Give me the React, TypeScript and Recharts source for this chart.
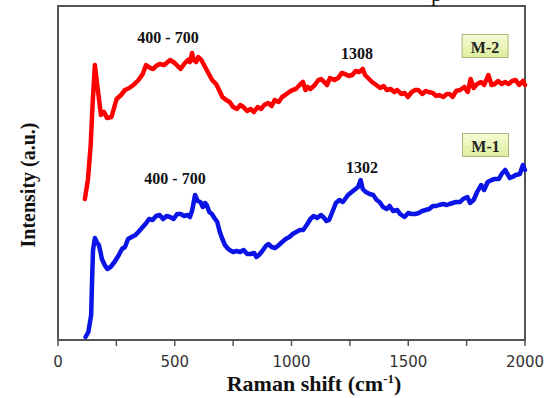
import React from 'react';
import { LineChart, Line, XAxis, YAxis, ReferenceArea, ReferenceDot } from 'recharts';

// Raman shift (cm-1) and intensity (a.u.) for sample M-2 (red, upper trace)
const m2Shift = [115,128,140,148,158,168,184,197,210,229,240,251,270,287,305,323,345,363,377,395,408,420,435,455,480,500,525,540,556,565,574,580,592,600,614,630,646,660,677,690,704,720,735,750,767,780,794,810,825,839,855,870,883,900,915,928,945,960,973,990,1005,1018,1035,1049,1060,1070,1081,1100,1115,1126,1140,1152,1165,1184,1200,1215,1229,1245,1260,1275,1290,1305,1315,1332,1345,1363,1380,1395,1408,1425,1440,1453,1470,1485,1498,1515,1530,1543,1560,1575,1587,1605,1620,1632,1650,1665,1677,1690,1705,1722,1740,1755,1767,1780,1795,1812,1825,1843,1857,1870,1885,1900,1915,1930,1945,1960,1975,1991,2000];
const m2Intensity = [141,160,195,235,275,255,225,228,222,223,232,241,245,250,252,255,260,266,275,272,271,274,276,275,280,277,271,276,280,278,287,280,278,283,280,273,266,260,256,250,243,240,238,233,231,235,233,229,231,228,233,231,235,237,234,240,238,243,245,248,250,251,255,258,250,253,251,255,260,261,258,255,262,260,262,267,266,264,265,269,268,271,265,261,258,255,252,254,250,251,248,250,246,247,243,248,250,250,246,249,248,247,244,245,243,246,246,243,249,250,253,248,261,252,256,258,255,265,255,256,259,256,258,256,259,260,255,259,255];

// Raman shift (cm-1) and intensity (a.u.) for sample M-1 (blue, lower trace)
const m1Shift = [118,130,142,146,150,158,168,175,182,188,200,211,225,242,258,274,287,300,315,332,348,363,378,390,405,420,435,450,465,480,495,510,525,540,555,565,575,587,598,610,620,630,637,648,659,670,682,693,704,715,725,735,750,765,780,795,810,825,840,850,861,875,890,901,915,930,946,960,975,991,1005,1020,1036,1050,1065,1081,1095,1110,1126,1140,1150,1161,1175,1190,1205,1220,1242,1258,1274,1285,1296,1305,1318,1335,1350,1365,1377,1392,1408,1420,1435,1453,1465,1484,1500,1515,1529,1545,1560,1574,1590,1605,1620,1632,1650,1665,1677,1690,1705,1722,1735,1753,1765,1780,1795,1812,1825,1840,1857,1870,1888,1900,1915,1925,1935,1946,1960,1978,1991,2000];
const m1Intensity = [3,8,25,60,90,102,97,95,88,81,75,71,73,78,84,91,93,101,103,105,109,113,117,121,120,124,125,121,124,123,121,126,126,124,125,123,130,145,139,138,133,137,135,128,126,122,118,108,101,95,92,90,88,89,88,90,86,86,87,83,85,89,94,96,93,92,95,98,101,103,106,108,110,110,115,121,124,122,125,122,119,120,128,137,140,138,145,148,151,153,160,151,148,146,145,140,138,133,131,134,129,130,126,123,127,126,126,127,129,130,131,134,134,135,136,135,136,137,138,138,141,143,137,140,148,155,150,158,160,161,161,166,170,166,162,163,165,166,175,170];

const xTicks = [0, 250, 500, 750, 1000, 1250, 1500, 1750, 2000];
const majorTicks = [0, 500, 1000, 1500, 2000];
const m2PeakLabels = ['400 - 700', '1308'];
const m1PeakLabels = ['400 - 700', '1302'];
const sampleNames = ['M-2', 'M-1'];

const m2Data = m2Shift.map((x, i) => ({ x, y: m2Intensity[i] }));
const m1Data = m1Shift.map((x, i) => ({ x, y: m1Intensity[i] }));

const serif = '"Liberation Serif", "Times New Roman", serif';
const sans = '"DejaVu Sans", Arial, sans-serif';

const XTick = (props: any) => {
  const { x, y, payload } = props;
  if (!majorTicks.includes(payload.value)) return <g />;
  return (
    <text x={x} y={y + 19} textAnchor="middle" fontFamily={sans} fontSize={15} fill="#333">
      {payload.value}
    </text>
  );
};

const peakText = (text: string) => (p: any) => (
  <text x={p.cx} y={p.cy} textAnchor="middle" dominantBaseline="central" fontFamily={serif}
    fontWeight="bold" fontSize={16} fill="#111">{text}</text>
);

const boxShape = (text: string, id: string) => (p: any) => (
  <g>
    <defs>
      <linearGradient id={id} x1="0" y1="0" x2="0" y2="1">
        <stop offset="0%" stopColor="#f6fbd4" />
        <stop offset="100%" stopColor="#dcee9e" />
      </linearGradient>
    </defs>
    <rect x={p.cx - 23} y={p.cy - 11.5} width={46} height={23} fill={`url(#${id})`} stroke="#aab67c" strokeWidth={1} />
    <text x={p.cx} y={p.cy + 1} textAnchor="middle" dominantBaseline="central" fontFamily={serif}
      fontWeight="bold" fontSize={16} fill="#222">{text}</text>
  </g>
);

export default function App() {
  return (
    <div style={{ position: 'absolute', left: 0, top: 0, width: 546, height: 398, background: '#fff' }}>
      <LineChart width={546} height={398} margin={{ top: 6, right: 21, left: 0, bottom: 0 }}>
        <XAxis
          type="number"
          dataKey="x"
          domain={[0, 2000]}
          ticks={xTicks}
          interval={0}
          tickSize={6}
          tickMargin={2}
          height={58}
          axisLine={{ stroke: '#555', strokeWidth: 2 }}
          tickLine={{ stroke: '#555', strokeWidth: 1.5 }}
          tick={<XTick />}
          label={{
            content: () => (
              <text x={314} y={391} textAnchor="middle" fontFamily={serif} fontWeight="bold" fontSize={22} fill="#111">
                Raman shift (cm<tspan fontSize={13} dy={-8}>-1</tspan><tspan dy={8}>)</tspan>
              </text>
            ),
          }}
        />
        <YAxis
          type="number"
          domain={[0, 334]}
          width={58}
          tick={false}
          tickLine={false}
          axisLine={false}
          label={{
            content: () => (
              <g>
                <text x={0} y={0} transform="translate(35,185) rotate(-90)" textAnchor="middle" fontFamily={serif}
                  fontWeight="bold" fontSize={20} fill="#111">Intensity (a.u.)</text>
                <text x={431} y={1} fontFamily={serif} fontSize={22} fill="#111">p</text>
              </g>
            ),
          }}
        />
        <ReferenceArea x1={0} x2={2000} y1={0} y2={334} fill="none" stroke="#555" strokeWidth={2} />
        <Line data={m1Data} dataKey="y" type="linear" stroke="#0a14e6" strokeWidth={4.5} dot={false}
          isAnimationActive={false} strokeLinejoin="round" strokeLinecap="round" />
        <Line data={m2Data} dataKey="y" type="linear" stroke="#ff0000" strokeWidth={4.5} dot={false}
          isAnimationActive={false} strokeLinejoin="round" strokeLinecap="round" />
        <ReferenceDot x={471} y={303} r={0} shape={peakText(m2PeakLabels[0])} />
        <ReferenceDot x={1280} y={287} r={0} shape={peakText(m2PeakLabels[1])} />
        <ReferenceDot x={501} y={162} r={0} shape={peakText(m1PeakLabels[0])} />
        <ReferenceDot x={1302} y={173} r={0} shape={peakText(m1PeakLabels[1])} />
        <ReferenceDot x={1829} y={294} r={0} shape={boxShape(sampleNames[0], 'gM2')} />
        <ReferenceDot x={1831} y={195} r={0} shape={boxShape(sampleNames[1], 'gM1')} />
      </LineChart>
    </div>
  );
}
